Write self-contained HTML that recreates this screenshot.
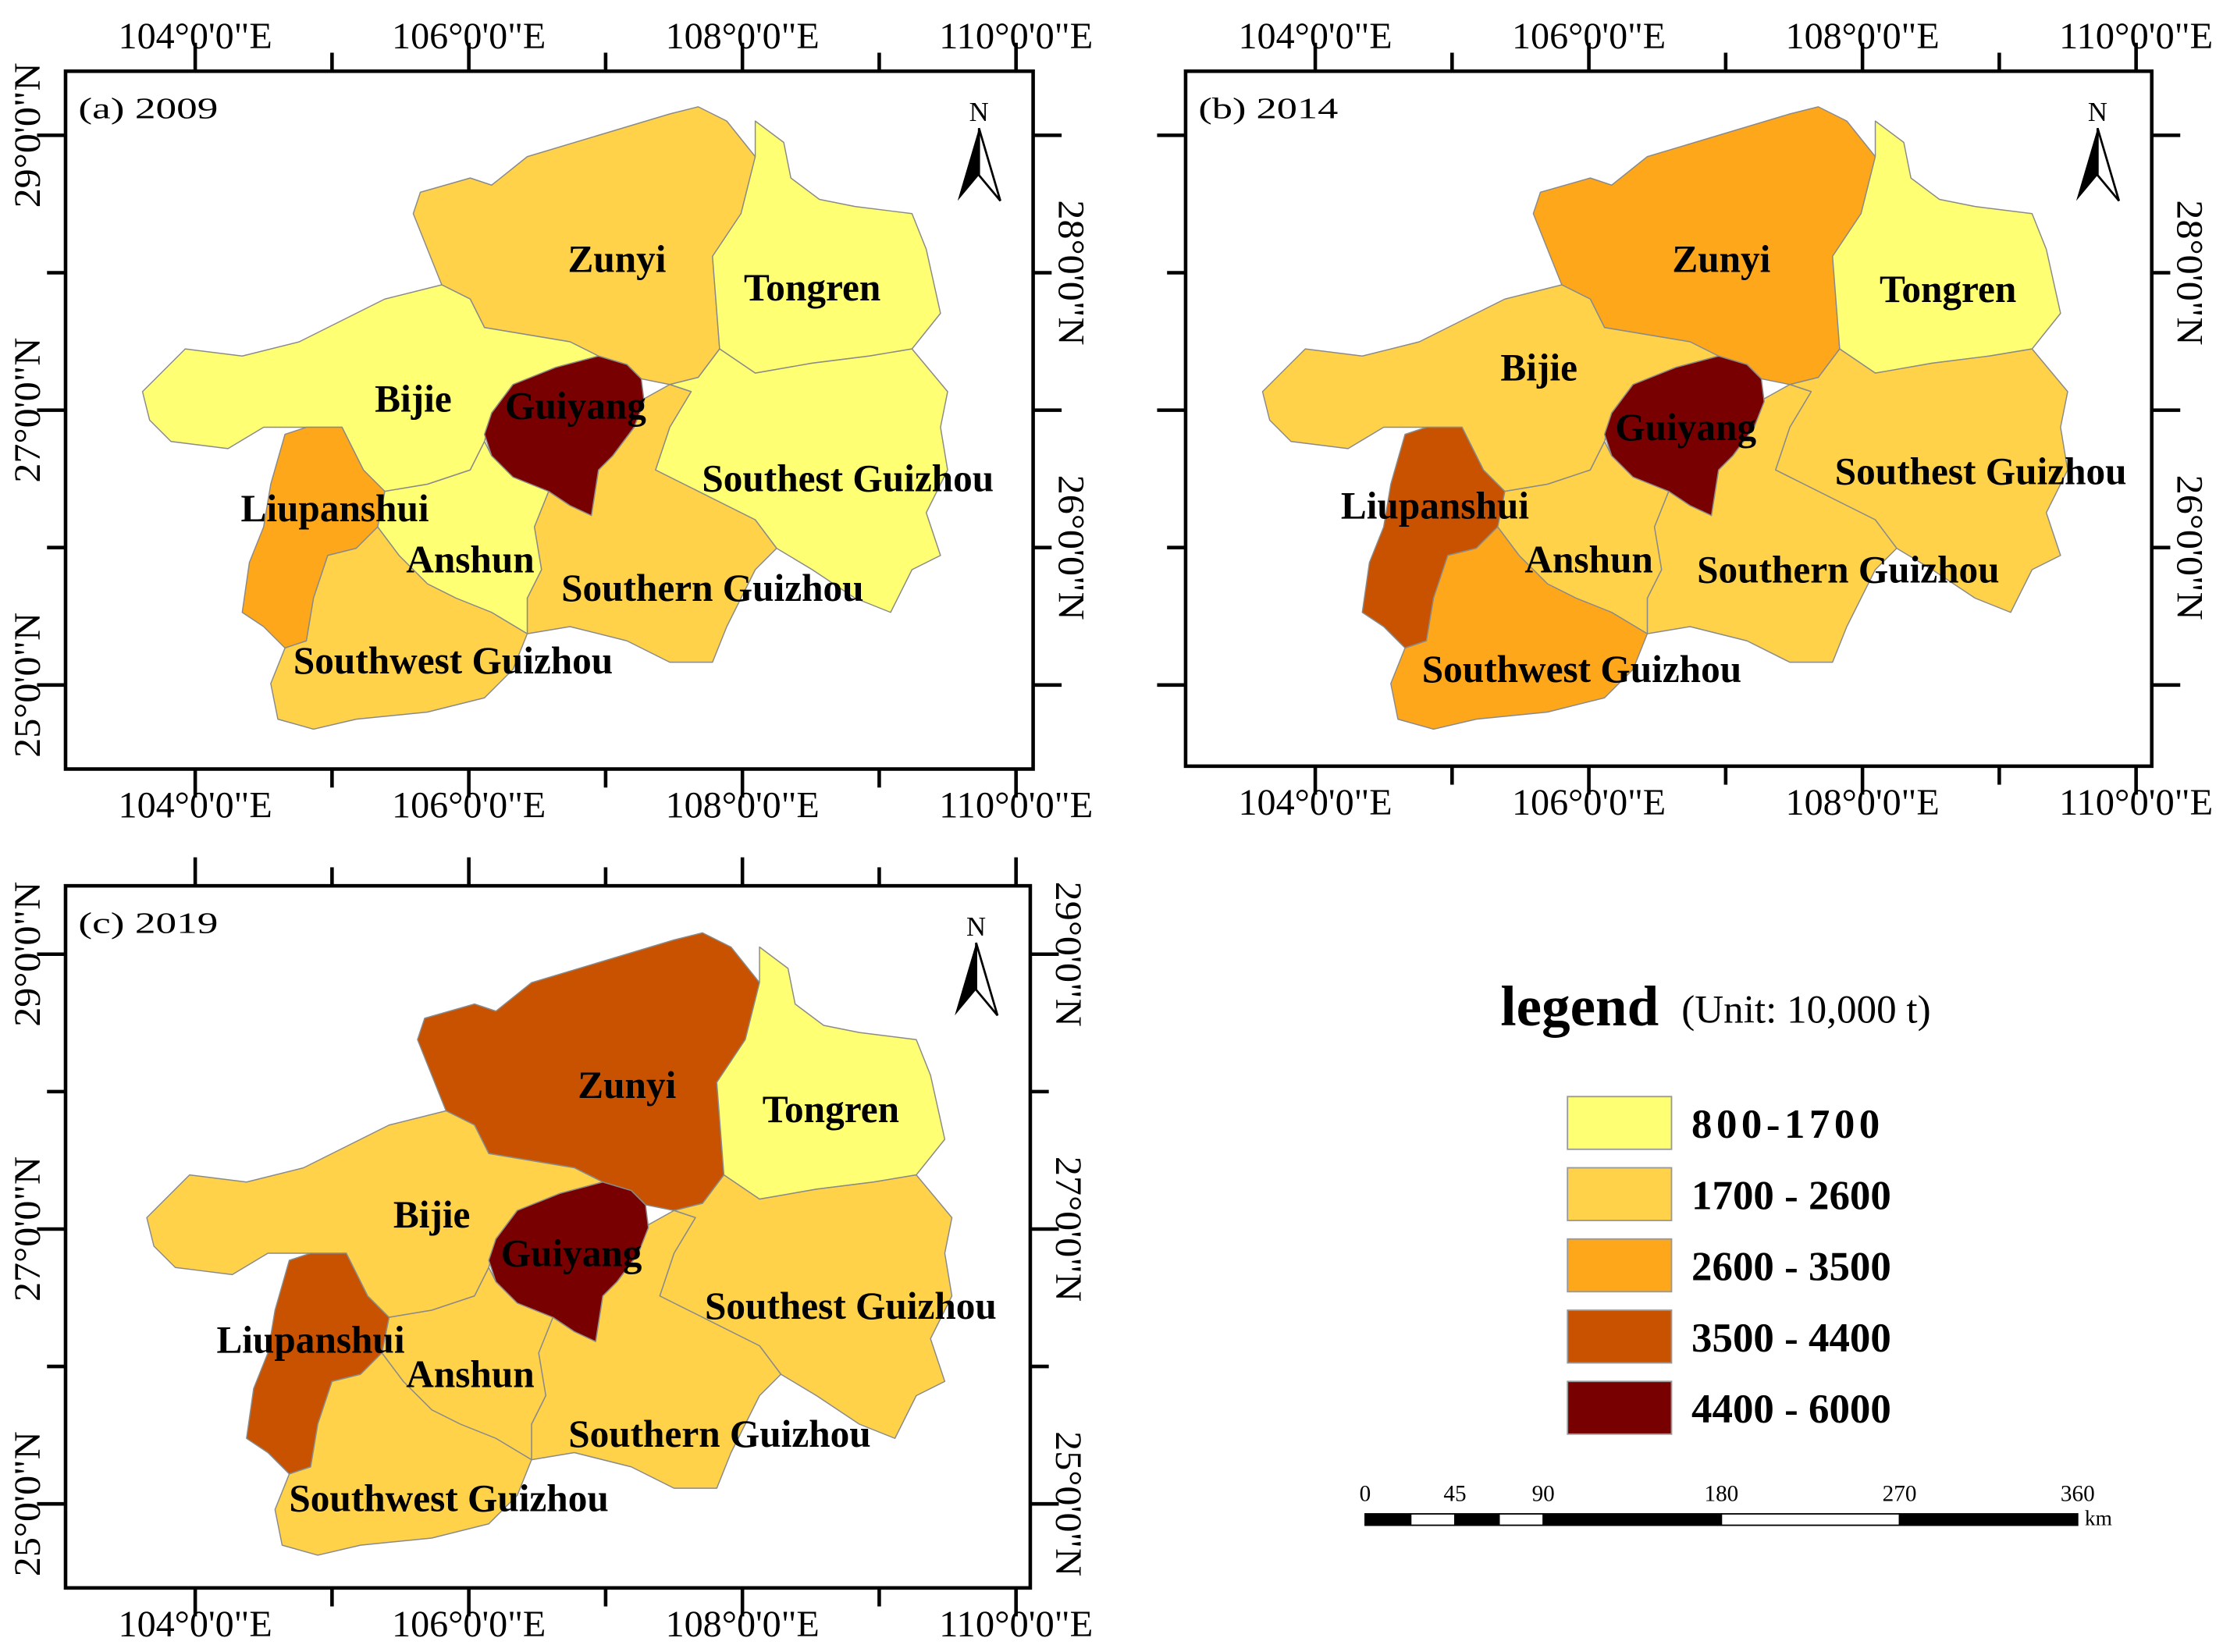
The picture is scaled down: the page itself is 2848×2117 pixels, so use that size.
<!DOCTYPE html>
<html><head><meta charset="utf-8"><style>
html,body{margin:0;padding:0;background:#fff;}
svg{display:block;}
text{font-family:"Liberation Serif",serif;}
</style></head><body>
<svg id="fig" width="2848" height="2117" viewBox="0 0 1560 1160" preserveAspectRatio="none" xmlns="http://www.w3.org/2000/svg"></svg>
<script>
const regions = ["Zunyi","Tongren","Bijie","Southest Guizhou","Southern Guizhou","Anshun","Liupanshui","Southwest Guizhou","Guiyang"];
const classes2009 = [1,0,0,0,1,0,2,1,4];
const classes2014 = [2,0,1,1,1,1,3,2,4];
const classes2019 = [3,0,1,1,1,1,3,1,4];
const legendLabels = ["800-1700","1700 - 2600","2600 - 3500","3500 - 4400","4400 - 6000"];
const palette = ["#FFFF73","#FFD24A","#FFA71A","#C85200","#780000"];
const lonTicks = ["104°0'0\"E","106°0'0\"E","108°0'0\"E","110°0'0\"E"];
const latMajor = ["29°0'0\"N","27°0'0\"N","25°0'0\"N"];
const latMinor = ["28°0'0\"N","26°0'0\"N"];
const scaleLabels = ["0","45","90","180","270","360"];

const shapes = {
"Zunyi":[[295,135],[330,125],[345,130],[370,110],[420,95],[470,80],[490,75],[510,85],[530,110],[520,150],[500,180],[505,245],[490,265],[470,270],[450,266],[440,256],[420,250],[400,240],[370,235],[340,230],[330,210],[310,200],[300,175],[290,150]],
"Tongren":[[530,85],[550,100],[555,125],[575,140],[600,145],[640,150],[650,175],[660,220],[640,245],[610,250],[570,255],[530,262],[505,245],[500,180],[520,150],[530,110]],
"Bijie":[[100,275],[130,245],[170,250],[210,240],[250,220],[270,210],[310,200],[330,210],[340,230],[370,235],[400,240],[420,250],[390,258],[360,270],[345,290],[340,310],[330,330],[300,340],[270,345],[255,330],[240,300],[215,300],[185,300],[160,315],[120,310],[105,295]],
"Southest Guizhou":[[470,270],[490,265],[505,245],[530,262],[570,255],[610,250],[640,245],[665,275],[660,300],[665,330],[650,360],[660,390],[640,400],[625,430],[600,420],[570,400],[545,385],[530,365],[500,350],[480,340],[460,330],[470,300],[485,275]],
"Southern Guizhou":[[420,330],[430,320],[445,300],[452,280],[470,270],[485,275],[470,300],[460,330],[480,340],[500,350],[530,365],[545,385],[530,400],[520,420],[510,440],[500,465],[470,465],[440,450],[400,440],[370,445],[370,420],[380,400],[375,370],[385,345],[400,355],[415,362]],
"Anshun":[[270,345],[300,340],[330,330],[340,310],[345,320],[360,335],[385,345],[375,370],[380,400],[370,420],[370,445],[345,430],[320,420],[300,410],[280,390],[265,370]],
"Liupanshui":[[200,305],[215,300],[240,300],[255,330],[270,345],[265,370],[250,385],[230,390],[220,420],[215,450],[200,455],[185,440],[170,430],[175,395],[185,370],[190,340]],
"Southwest Guizhou":[[230,390],[250,385],[265,370],[280,390],[300,410],[320,420],[345,430],[370,445],[360,470],[340,490],[300,500],[250,505],[220,512],[195,505],[190,480],[200,455],[215,450],[220,420]],
"Guiyang":[[345,290],[360,270],[390,258],[420,250],[440,256],[450,266],[452,282],[445,300],[430,320],[420,330],[415,362],[400,355],[385,345],[360,335],[345,320],[340,305]]
};
const labelPos = {
"Zunyi":[433,182],"Tongren":[570,202],"Bijie":[290,280],"Guiyang":[404,285],"Southest Guizhou":[595,336],
"Liupanshui":[235,357],"Anshun":[330,393],"Southern Guizhou":[500,413],"Southwest Guizhou":[318,464]};
const labelPosB = {
"Zunyi":[1208,182],"Tongren":[1367,203],"Bijie":[1080,258],"Guiyang":[1183,300],"Southest Guizhou":[1390,331],
"Liupanshui":[1007,355],"Anshun":[1115,393],"Southern Guizhou":[1297,400],"Southwest Guizhou":[1110,470]};
const labelPosC = {
"Zunyi":[440,762],"Tongren":[583,779],"Bijie":[303,853],"Guiyang":[401,880],"Southest Guizhou":[597,917],
"Liupanshui":[218,941],"Anshun":[330,965],"Southern Guizhou":[505,1007],"Southwest Guizhou":[315,1052]};

const NS="http://www.w3.org/2000/svg";
const svg=document.getElementById('fig');
function mk(tag,attrs,parent){const e=document.createElementNS(NS,tag);for(const k in attrs)e.setAttribute(k,attrs[k]);(parent||svg).appendChild(e);return e;}

const panels=[
 {id:'a',title:'(a) 2009',cls:classes2009,fx:46,fy:50,fw:679,fh:490,dx:0,dy:0,labels:labelPos,latY0:95,top:true,left:latMajor,leftIdx:[0,2,4],right:latMinor,rightIdx:[1,3]},
 {id:'b',title:'(b) 2014',cls:classes2014,fx:832,fy:50,fw:678,fh:488,dx:786,dy:0,labels:labelPosB,latY0:95,top:true,left:[],leftIdx:[],right:latMinor,rightIdx:[1,3]},
 {id:'c',title:'(c) 2019',cls:classes2019,fx:46,fy:622,fw:677,fh:493,dx:3,dy:580,labels:labelPosC,latY0:670,top:false,left:latMajor,leftIdx:[0,2,4],right:latMajor,rightIdx:[0,2,4]}
];
const lonStep=96, latStep=96.5;
panels.forEach(p=>{
  const g=mk('g',{});
  
  
  regions.forEach((r,i)=>{
    const pts=shapes[r].map(q=>(q[0]+p.dx)+','+(q[1]+p.dy)).join(' ');
    const poly=mk('polygon',{points:pts,fill:palette[p.cls[i]],stroke:'#8a8a8a','stroke-width':0.8,'stroke-linejoin':'round'},g);
    
    
  });
  regions.forEach(r=>{
    const t=mk('text',{x:p.labels[r][0],y:p.labels[r][1]+9,'text-anchor':'middle','font-size':27,'font-weight':'bold',fill:'#000'},g);
    t.textContent=r;
    
    
  });
  const fr=mk('rect',{x:p.fx,y:p.fy,width:p.fw,height:p.fh,fill:'none',stroke:'#000','stroke-width':2.5},g);
  
  
  const tt=mk('text',{x:p.fx+9,y:p.fy+33,'font-size':21,fill:'#000',textLength:98,lengthAdjust:'spacingAndGlyphs'},g);
  tt.textContent=p.title;
  
  
  const x0=p.fx+91;
  for(let k=0;k<7;k++){
    const x=x0+k*lonStep;
    mk('line',{x1:x,y1:p.fy,x2:x,y2:p.fy-(k%2?13:20),stroke:'#000','stroke-width':2.5},g);
    mk('line',{x1:x,y1:p.fy+p.fh,x2:x,y2:p.fy+p.fh+(k%2?13:20),stroke:'#000','stroke-width':2.5},g);
  }
  lonTicks.forEach((l,k)=>{
    const x=x0+k*2*lonStep;
    const ys=p.top?[p.fy-16,p.fy+p.fh+34]:[p.fy+p.fh+34];
    ys.forEach(y=>{
      const t=mk('text',{x:x-54,y:y,'font-size':26,textLength:108,lengthAdjust:'spacingAndGlyphs',fill:'#000'},g);
      t.textContent=l;
      
      
    });
  });
  for(let k=0;k<5;k++){
    const y=p.latY0+k*latStep;
    mk('line',{x1:p.fx,y1:y,x2:p.fx-(k%2?13:20),y2:y,stroke:'#000','stroke-width':2.5},g);
    mk('line',{x1:p.fx+p.fw,y1:y,x2:p.fx+p.fw+(k%2?13:20),y2:y,stroke:'#000','stroke-width':2.5},g);
  }
  p.left.forEach((l,k)=>{
    const y=p.latY0+p.leftIdx[k]*latStep, x=p.fx-18;
    const t=mk('text',{x:x,y:y,'font-size':26,'text-anchor':'middle',textLength:102,lengthAdjust:'spacingAndGlyphs',transform:`rotate(-90 ${x} ${y})`,fill:'#000'},g);
    t.textContent=l;
    
    
  });
  p.right.forEach((l,k)=>{
    const y=p.latY0+p.rightIdx[k]*latStep, x=p.fx+p.fw+18;
    const t=mk('text',{x:x,y:y,'font-size':26,'text-anchor':'middle',textLength:102,lengthAdjust:'spacingAndGlyphs',transform:`rotate(90 ${x} ${y})`,fill:'#000'},g);
    t.textContent=l;
    
    
  });
  const ax=p.fx+p.fw-38, ay=p.fy+40;
  const na=mk('g',{},g);
  
  
  const nt=mk('text',{x:ax,y:ay-5,'text-anchor':'middle','font-size':19,'font-family':'Liberation Sans, sans-serif',fill:'#000'},na);
  nt.textContent='N';
  mk('polygon',{points:`${ax},${ay} ${ax-15},${ay+51} ${ax},${ay+33}`,fill:'#000'},na);
  mk('polygon',{points:`${ax},${ay} ${ax+15},${ay+51} ${ax},${ay+33}`,fill:'#fff',stroke:'#000','stroke-width':1.5},na);
});

const lg=mk('g',{});


const lt=mk('text',{x:1053,y:720,'font-size':40,'font-weight':'bold',fill:'#000'},lg);
lt.textContent='legend';


const lu=mk('text',{x:1180,y:718,'font-size':28,fill:'#000'},lg);
lu.textContent='(Unit: 10,000 t)';


legendLabels.forEach((l,i)=>{
  const y=770+i*50;
  const r=mk('rect',{x:1100,y:y,width:73,height:37,fill:palette[i],stroke:'#999','stroke-width':1},lg);
  
  
  const t=mk('text',{x:1187,y:y+29,'font-size':29,'font-weight':'bold',fill:'#000','letter-spacing':i===0?3:0},lg);
  t.textContent=l;
  
  
});
const sb=mk('g',{});


const segs=[958,990,1021,1052,1083,1208,1333,1458];
for(let i=0;i<segs.length-1;i++){
  mk('rect',{x:segs[i],y:1063,width:segs[i+1]-segs[i],height:8,fill:i%2?'#fff':'#000',stroke:'#000','stroke-width':1},sb);
}
const sx=[958,1021,1083,1208,1333,1458];
scaleLabels.forEach((l,i)=>{
  const t=mk('text',{x:sx[i],y:1054,'text-anchor':'middle','font-size':16,'font-family':'Liberation Sans, sans-serif',fill:'#000'},sb);
  t.textContent=l;
  
  
});
const km=mk('text',{x:1463,y:1071,'font-size':15,'font-family':'Liberation Sans, sans-serif',fill:'#000'},sb);
km.textContent='km';


</script>
</body></html>
